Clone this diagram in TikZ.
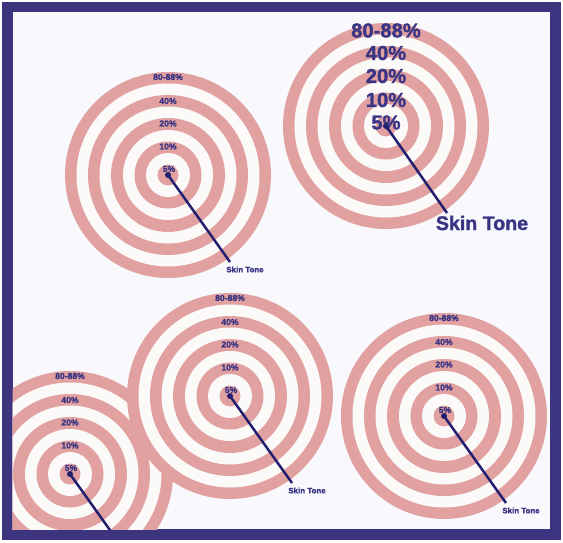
\documentclass[tikz,border=0pt]{standalone}
\usepackage{fontspec}
\setmainfont{Liberation Sans}
\newfontfamily\heavyfont[FakeBold=1.5]{Liberation Sans Bold}
\definecolor{framec}{RGB}{60,52,126}
\definecolor{bgc}{RGB}{248,248,253}
\definecolor{pinkc}{RGB}{226,161,161}
\definecolor{whitec}{RGB}{252,249,249}
\definecolor{textc}{RGB}{58,52,132}
\definecolor{linec}{RGB}{34,32,110}
\tikzset{
  lbl/.style={inner sep=0pt, text=textc, font=\heavyfont\fontsize{8.6}{9}\selectfont},
  biglbl/.style={inner sep=0pt, text=textc, font=\heavyfont\fontsize{20.2}{22}\selectfont},
  skin/.style={inner sep=0pt, text=textc, font=\heavyfont\fontsize{7.9}{9}\selectfont},
  bigskin/.style={inner sep=0pt, text=textc, font=\heavyfont\fontsize{19.6}{22}\selectfont},
  dotc/.style={circle, fill=linec, inner sep=0pt, minimum size=6pt},
  pointer/.style={draw=linec, line width=2.5pt},
  pics/rings/.style={code={
    \foreach \r/\c in {103/pinkc,91.5/whitec,80/pinkc,68.5/whitec,57/pinkc,45/whitec,33.5/pinkc,22/whitec,10.5/pinkc}
      {\fill[\c] (0,0) circle[radius=\r pt];}
  }},
}
\begin{document}
\begin{tikzpicture}[x=1pt,y=-1pt]
\useasboundingbox (0,0) rectangle (563,543);
\fill[white] (0,0) rectangle (563,543);
\fill[framec] (1.7,1.7) rectangle (560.7,539.5);
\begin{scope}
\clip (12.7,11.7) rectangle (550,529.3);
\fill[bgc] (12.7,11.7) rectangle (550,529.3);
% target 1
\begin{scope}[shift={(168,175)}]
  \pic {rings};
  \node[lbl] (a1) at (0,-98) {80-88\%};
  \node[lbl] (a2) at (0,-74) {40\%};
  \node[lbl] (a3) at (0,-51.5) {20\%};
  \node[lbl] (a4) at (0,-28.5) {10\%};
  \node[lbl] (a5) at (1,-6) {5\%};
  \node[dotc] (ad) at (0,0) {};
  \coordinate (ae) at (62,87);
  \node[skin] (as) at (77,94.5) {Skin Tone};
  \draw[pointer] (ad.center) -- (ae);
\end{scope}
% target 2
\begin{scope}[shift={(386,126)}]
  \pic {rings};
  \node[biglbl] (b1) at (0,-95.5) {80-88\%};
  \node[biglbl] (b2) at (0,-73) {40\%};
  \node[biglbl] (b3) at (0,-50) {20\%};
  \node[biglbl] (b4) at (0,-26) {10\%};
  \node[biglbl] (b5) at (0,-3.5) {5\%};
  \node[dotc] (bd) at (0,0) {};
  \coordinate (be) at (61,87);
  \node[bigskin] (bs) at (96,97) {Skin Tone};
  \draw[pointer] (bd.center) -- (be);
\end{scope}
% target 3
\begin{scope}[shift={(70,474)}]
  \pic {rings};
  \node[lbl] (c1) at (0,-98) {80-88\%};
  \node[lbl] (c2) at (0,-74) {40\%};
  \node[lbl] (c3) at (0,-51.5) {20\%};
  \node[lbl] (c4) at (0,-28.5) {10\%};
  \node[lbl] (c5) at (1,-6) {5\%};
  \node[dotc] (cd) at (0,0) {};
  \coordinate (ce) at (62,87);
  \draw[pointer] (cd.center) -- (ce);
\end{scope}
% target 4
\begin{scope}[shift={(230,396)}]
  \pic {rings};
  \node[lbl] (d1) at (0,-98) {80-88\%};
  \node[lbl] (d2) at (0,-74) {40\%};
  \node[lbl] (d3) at (0,-51.5) {20\%};
  \node[lbl] (d4) at (0,-28.5) {10\%};
  \node[lbl] (d5) at (1,-6) {5\%};
  \node[dotc] (dd) at (0,0) {};
  \coordinate (de) at (62,87);
  \node[skin] (ds) at (77,94.5) {Skin Tone};
  \draw[pointer] (dd.center) -- (de);
\end{scope}
% target 5
\begin{scope}[shift={(444,416)}]
  \pic {rings};
  \node[lbl] (e1) at (0,-98) {80-88\%};
  \node[lbl] (e2) at (0,-74) {40\%};
  \node[lbl] (e3) at (0,-51.5) {20\%};
  \node[lbl] (e4) at (0,-28.5) {10\%};
  \node[lbl] (e5) at (1,-6) {5\%};
  \node[dotc] (ed) at (0,0) {};
  \coordinate (ee) at (62,87);
  \node[skin] (es) at (77,94.5) {Skin Tone};
  \draw[pointer] (ed.center) -- (ee);
\end{scope}
\end{scope}
\end{tikzpicture}
\end{document}
